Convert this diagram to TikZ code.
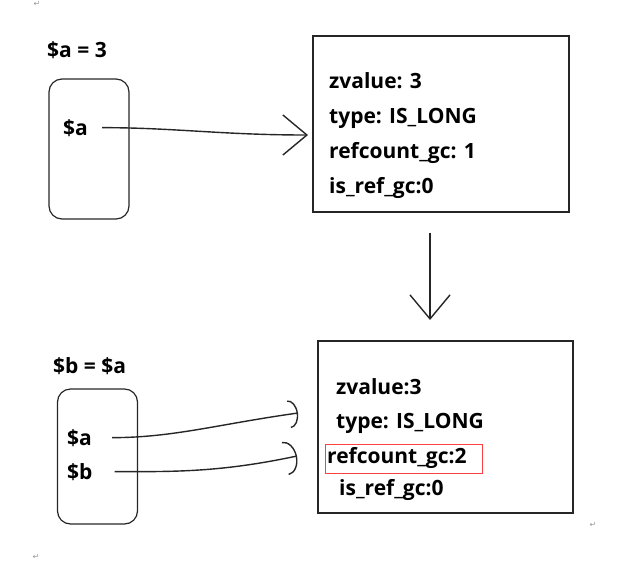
\documentclass[tikz,border=0pt]{standalone}
\usepackage{fontspec}
\setmainfont{Open Sans}
\newfontfamily\symfont{DejaVu Sans}
\usepackage{tikz}
\usetikzlibrary{arrows.meta}
\usetikzlibrary{calc}
\usetikzlibrary{positioning}
\begin{document}
\begin{tikzpicture}[x=1pt, y=-1pt,
    txt/.style={anchor=base west, inner sep=0pt, font=\bfseries\fontsize{21}{24}\selectfont},
    mem/.style={draw=black!85, line width=1.4pt, minimum width=256pt, minimum height=176pt, inner sep=0pt},
    var/.style={draw=black!85, line width=1.2pt, rounded corners=13pt, minimum width=80pt, inner sep=0pt},
    hand/.style={line width=1.4pt, black!85},
    parmark/.style={text=black!40, font=\symfont\fontsize{8}{8}\selectfont, inner sep=0pt}]
    \useasboundingbox (0,0) rectangle (639,579);
    % top half
    \node[txt] (la) at (47,57) {\$a = 3};
    \node[var, minimum height=140pt] (v1) at (89,149) {};
    \node[txt] (va1) at (63,135) {\$a};
    \node[mem] (m1) at (441,124) {};
    \node[txt] (zv1) at (329,88) {zvalue: 3};
    \node[txt] (ty1) at (329,123) {type: IS\_LONG};
    \node[txt] (rc1) at (329,158) {refcount\_gc: 1};
    \node[txt] (ir1) at (329,193) {is\_ref\_gc:0};
    \coordinate (t1) at (308,135);
    \coordinate (t3) at (430,320);
    \path [hand, -{Straight Barb[length=24pt, width=40pt]}, shorten <=14pt] (va1.east) edge[out=0, in=180] (t1);
    \path [hand, -{Straight Barb[length=24pt, width=40pt]}, shorten <=20pt] (m1.south -| t3) edge (t3);
    % bottom half
    \node[txt] (lb) at (53,373) {\$b = \$a};
    \node[var, minimum height=135pt] (v2) at (97.5,456.5) {};
    \node[txt] (va2) at (67,445) {\$a};
    \node[txt] (vb2) at (67,479) {\$b};
    \node[mem, minimum width=255pt, minimum height=172pt] (m2) at (445.5,427) {};
    \node[txt] (zv2) at (336,394) {zvalue:3};
    \node[txt] (ty2) at (336,428) {type: IS\_LONG};
    \node[txt] (rc2) at (327,463) {refcount\_gc:2};
    \node[txt] (ir2) at (339,495) {is\_ref\_gc:0};
    \node[draw=red!75, line width=0.8pt, minimum width=157pt, minimum height=29pt, inner sep=0pt] (hl) at (403.5,458.5) {};
    \coordinate (t2a) at (298,413);
    \coordinate (t2b) at (297,456);
    \path [hand, -{Arc Barb[length=9pt, width=28pt]}, shorten <=20pt] (va2.east) edge[out=0, in=188] (t2a);
    \path [hand, -{Arc Barb[length=12pt, width=34pt]}, shorten <=22pt] (vb2.east) edge[out=0, in=192] (t2b);
    % paragraph marks
    \node[parmark] (p1) at (37,4) {↵};
    \node[parmark] (p2) at (593,525) {↵};
    \node[parmark] (p3) at (36,557) {↵};
\end{tikzpicture}
\end{document}
